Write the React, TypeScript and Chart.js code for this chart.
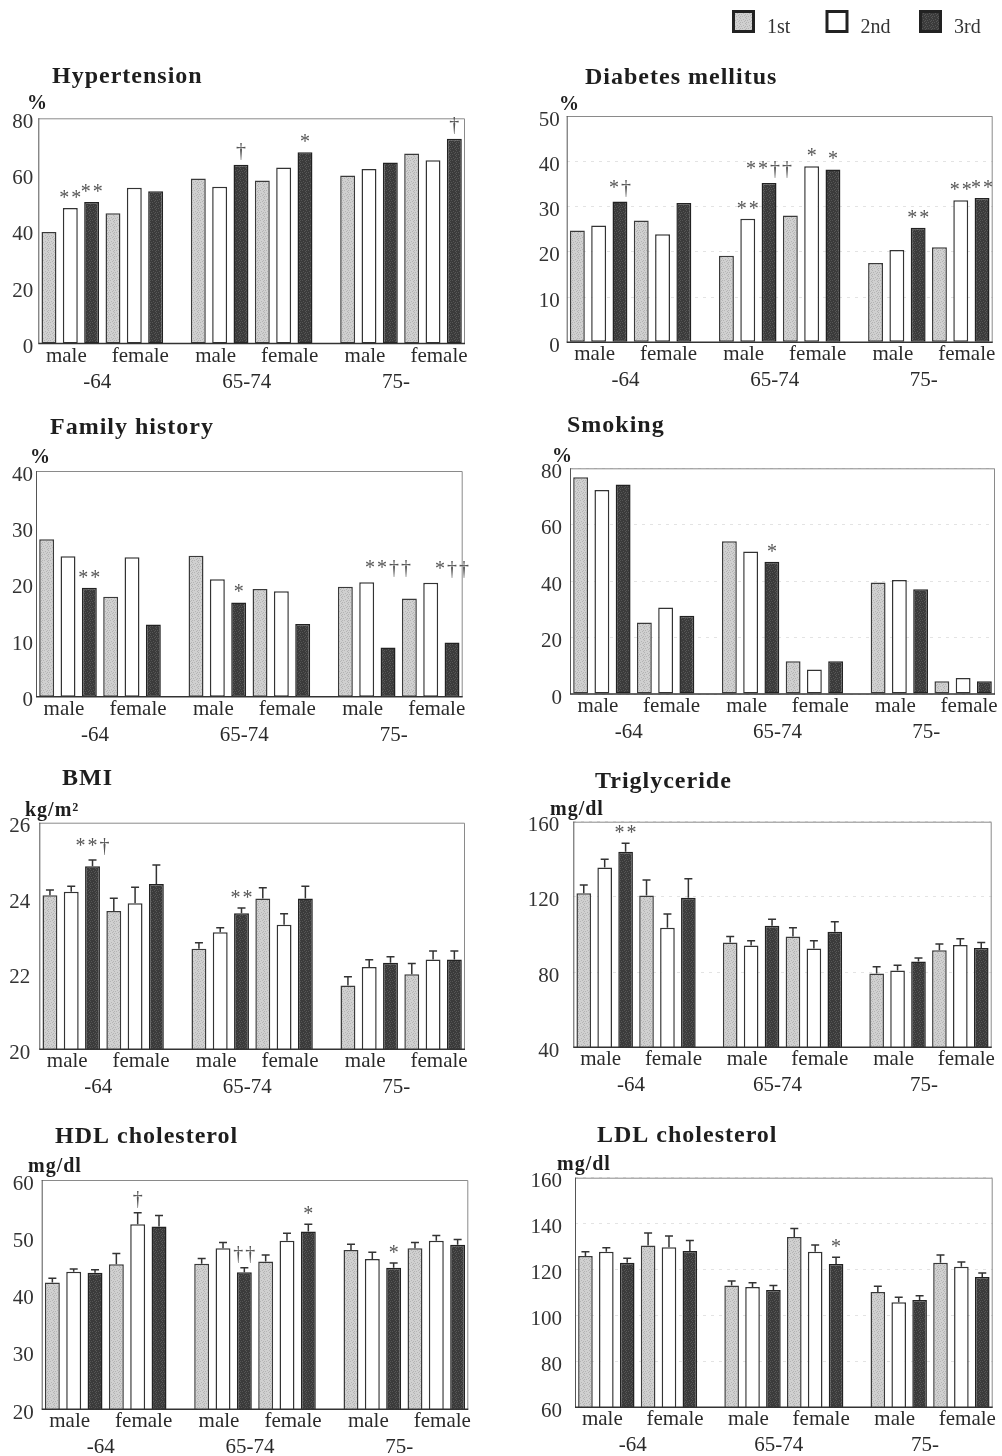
import React, { useEffect, useRef } from 'react';
import { Chart, registerables } from 'chart.js';

Chart.register(...registerables);
Chart.defaults.font.family = 'Liberation Serif';

// ---------- categories ----------
const ageGroups = ['-64', '65-74', '75-'];
const sexes = ['male', 'female'];
const tiers = ['1st', '2nd', '3rd'];

// every value array is ordered:
// [-64 male, -64 female, 65-74 male, 65-74 female, 75- male, 75- female]

// Hypertension (%)
const hypertension1st = [39.6, 46.3, 58.6, 57.9, 59.7, 67.5];
const hypertension2nd = [48.1, 55.3, 55.7, 62.5, 62.0, 65.1];
const hypertension3rd = [50.3, 54.1, 63.5, 67.9, 64.3, 72.7];
const hypertensionMarks2nd = ['**', '', '', '', '', ''];
const hypertensionMarks3rd = ['**', '', '†', '*', '', '†'];

// Diabetes mellitus (%)
const diabetes1st = [24.7, 26.9, 19.1, 28.0, 17.5, 21.0];
const diabetes2nd = [25.8, 23.9, 27.3, 38.9, 20.4, 31.4];
const diabetes3rd = [31.1, 30.8, 35.2, 38.2, 25.3, 31.9];
const diabetesMarks2nd = ['', '', '**', '*', '', '**'];
const diabetesMarks3rd = ['*†', '', '**††', '*', '**', '**'];

// Family history (%)
const family1st = [27.9, 17.7, 25.0, 19.1, 19.5, 17.4];
const family2nd = [24.9, 24.7, 20.8, 18.7, 20.3, 20.2];
const family3rd = [19.3, 12.8, 16.7, 12.9, 8.7, 9.6];
const familyMarks3rd = ['**', '', '*', '', '**††', '*††'];

// Smoking (%)
const smoking1st = [76.8, 25.3, 54.1, 11.6, 39.5, 4.5];
const smoking2nd = [72.3, 30.7, 50.5, 8.7, 40.4, 5.7];
const smoking3rd = [74.3, 27.7, 46.9, 11.6, 37.1, 4.5];
const smokingMarks3rd = ['', '', '*', '', '', ''];

// BMI (kg/m2), mean and SE
const bmi1st = [24.08, 23.66, 22.66, 23.99, 21.69, 21.99];
const bmi2nd = [24.17, 23.87, 23.10, 23.30, 22.18, 22.38];
const bmi3rd = [24.85, 24.38, 23.60, 23.99, 22.29, 22.38];
const bmiErr1st = [0.14, 0.34, 0.16, 0.29, 0.23, 0.28];
const bmiErr2nd = [0.15, 0.42, 0.12, 0.29, 0.19, 0.22];
const bmiErr3rd = [0.16, 0.50, 0.14, 0.33, 0.16, 0.22];
const bmiMarks3rd = ['**†', '', '**', '', '', ''];

// Triglyceride (mg/dl)
const tg1st = [121.9, 120.8, 95.7, 99.0, 79.3, 91.6];
const tg2nd = [135.7, 103.6, 94.1, 92.6, 80.8, 94.4];
const tg3rd = [144.0, 119.6, 104.7, 101.5, 85.6, 92.8];
const tgErr1st = [4.4, 8.2, 3.3, 4.6, 3.6, 3.3];
const tgErr2nd = [4.3, 7.3, 2.6, 4.1, 2.8, 3.4];
const tgErr3rd = [4.5, 10.1, 3.4, 5.3, 1.9, 2.9];
const tgMarks3rd = ['**', '', '', '', '', ''];

// HDL cholesterol (mg/dl)
const hdl1st = [42.1, 45.3, 45.4, 45.8, 47.8, 48.1];
const hdl2nd = [44.0, 52.3, 48.1, 49.4, 46.2, 49.4];
const hdl3rd = [43.8, 51.9, 43.9, 51.0, 44.7, 48.7];
const hdlErr1st = [0.75, 1.86, 0.9, 1.1, 1.0, 1.0];
const hdlErr2nd = [0.47, 2.0, 1.0, 1.3, 1.2, 0.9];
const hdlErr3rd = [0.56, 1.9, 0.8, 1.3, 0.8, 0.9];
const hdlMarks2nd = ['', '†', '', '', '', ''];
const hdlMarks3rd = ['', '', '††', '*', '*', ''];

// LDL cholesterol (mg/dl)
const ldl1st = [125.9, 130.5, 113.0, 134.2, 110.2, 123.0];
const ldl2nd = [127.8, 129.7, 112.4, 127.8, 105.7, 121.2];
const ldl3rd = [123.0, 128.1, 111.1, 122.4, 106.7, 116.7];
const ldlErr1st = [1.9, 5.4, 2.0, 3.7, 2.5, 3.3];
const ldlErr2nd = [1.7, 4.9, 1.9, 2.9, 2.2, 2.1];
const ldlErr3rd = [1.9, 4.5, 1.9, 2.9, 1.9, 1.8];
const ldlMarks3rd = ['', '', '', '*', '', ''];

const noMarks: string[] = [];

// ---------- styles ----------
const tierFill = ['#d0d0d0', '#ffffff', '#3b3b3b'];
const tierSpeck = ['#b4b4b4', '', '#565656'];
const tierBorder = ['#3a3a3a', '#333333', '#222222'];
// fixed stipple mask for the shaded bars (a texture, not data)
const speckMask = [
  [0, 0], [3, 1], [1, 2], [4, 3], [2, 4], [5, 5], [0, 4], [5, 2],
];

function makeFill(t: number): any {
  if (!tierSpeck[t]) return tierFill[t];
  const c = document.createElement('canvas');
  c.width = 6;
  c.height = 6;
  const g = c.getContext('2d');
  if (!g) return tierFill[t];
  g.fillStyle = tierFill[t];
  g.fillRect(0, 0, 6, 6);
  g.fillStyle = tierSpeck[t];
  speckMask.forEach(([x, y]) => g.fillRect(x, y, 1, 1));
  return g.createPattern(c, 'repeat') || tierFill[t];
}

type PanelSpec = {
  id: string;
  title: string;
  unit: string;
  min: number;
  max: number;
  step: number;
  values: number[][];
  errors?: number[][];
  marks: string[][];
  grid: boolean;
  legend?: boolean;
  canvas: number[]; // x, y, w, h (page)
  box: number[]; // left, top, right, bottom (page)
  titlePos: number[];
  unitPos: number[];
  tickPad: number;
};

const panels: PanelSpec[] = [
  {
    id: 'ht', title: 'Hypertension', unit: '%', min: 0, max: 80, step: 20,
    values: [hypertension1st, hypertension2nd, hypertension3rd],
    marks: [noMarks, hypertensionMarks2nd, hypertensionMarks3rd], grid: false,
    canvas: [0, 0, 500, 400], box: [38.3, 118.3, 465, 343.5], titlePos: [52, 83], unitPos: [27, 109], tickPad: 5,
  },
  {
    id: 'dm', title: 'Diabetes mellitus', unit: '%', min: 0, max: 50, step: 10,
    values: [diabetes1st, diabetes2nd, diabetes3rd],
    marks: [noMarks, diabetesMarks2nd, diabetesMarks3rd], grid: true, legend: true,
    canvas: [500, 0, 502, 400], box: [566.7, 116, 992.7, 342.3], titlePos: [585, 84], unitPos: [559, 110], tickPad: 7,
  },
  {
    id: 'fh', title: 'Family history', unit: '%', min: 0, max: 40, step: 10,
    values: [family1st, family2nd, family3rd],
    marks: [noMarks, noMarks, familyMarks3rd], grid: false,
    canvas: [0, 400, 500, 355], box: [36, 471, 462.7, 696.7], titlePos: [50, 434], unitPos: [30, 463], tickPad: 3,
  },
  {
    id: 'sm', title: 'Smoking', unit: '%', min: 0, max: 80, step: 20,
    values: [smoking1st, smoking2nd, smoking3rd],
    marks: [noMarks, noMarks, smokingMarks3rd], grid: true,
    canvas: [500, 400, 502, 355], box: [570, 468.3, 995, 694], titlePos: [567, 431.7], unitPos: [552, 462], tickPad: 8,
  },
  {
    id: 'bmi', title: 'BMI', unit: 'kg/m²', min: 20, max: 26, step: 2,
    values: [bmi1st, bmi2nd, bmi3rd], errors: [bmiErr1st, bmiErr2nd, bmiErr3rd],
    marks: [noMarks, noMarks, bmiMarks3rd], grid: false,
    canvas: [0, 755, 500, 350], box: [39.3, 822.7, 465, 1049.3], titlePos: [62, 785], unitPos: [25, 816], tickPad: 9,
  },
  {
    id: 'tg', title: 'Triglyceride', unit: 'mg/dl', min: 40, max: 160, step: 40,
    values: [tg1st, tg2nd, tg3rd], errors: [tgErr1st, tgErr2nd, tgErr3rd],
    marks: [noMarks, noMarks, tgMarks3rd], grid: true,
    canvas: [500, 755, 502, 350], box: [573.3, 821.7, 991.7, 1047.3], titlePos: [595, 788], unitPos: [550, 815], tickPad: 14,
  },
  {
    id: 'hdl', title: 'HDL cholesterol', unit: 'mg/dl', min: 20, max: 60, step: 10,
    values: [hdl1st, hdl2nd, hdl3rd], errors: [hdlErr1st, hdlErr2nd, hdlErr3rd],
    marks: [noMarks, hdlMarks2nd, hdlMarks3rd], grid: false,
    canvas: [0, 1105, 500, 351], box: [41.7, 1180, 468.3, 1409.3], titlePos: [55, 1143], unitPos: [28, 1172], tickPad: 8,
  },
  {
    id: 'ldl', title: 'LDL cholesterol', unit: 'mg/dl', min: 60, max: 160, step: 20,
    values: [ldl1st, ldl2nd, ldl3rd], errors: [ldlErr1st, ldlErr2nd, ldlErr3rd],
    marks: [noMarks, noMarks, ldlMarks3rd], grid: true,
    canvas: [500, 1105, 502, 351], box: [575, 1177.7, 992.7, 1407.3], titlePos: [597, 1142], unitPos: [557, 1170], tickPad: 13,
  },
];

// ---------- slots: 3 age groups x (2 sexes x 3 tiers) with one empty slot between age groups ----------
const slotsPerAge = sexes.length * tiers.length + 1;
const slotLabels: string[] = [];
ageGroups.forEach((age, a) => {
  sexes.forEach((sex) => tiers.forEach((t) => slotLabels.push(`${age} ${sex} ${t}`)));
  if (a < ageGroups.length - 1) slotLabels.push(`gap${a}`);
});
const slotOf = (g: number, t: number) =>
  Math.floor(g / sexes.length) * slotsPerAge + (g % sexes.length) * tiers.length + t;

function makeDecor(spec: PanelSpec, fills: any[]) {
  return {
    id: 'panelDecor_' + spec.id,
    afterDatasetsDraw(chart: any) {
      const ctx: CanvasRenderingContext2D = chart.ctx;
      const { left, top, right, bottom } = chart.chartArea;
      const xs = chart.scales.x;
      const ys = chart.scales.y;
      const [cx, cy] = spec.canvas;
      ctx.save();

      // frame
      ctx.lineWidth = 1;
      ctx.strokeStyle = '#8a8a8a';
      ctx.beginPath();
      ctx.moveTo(left, top + 0.5);
      ctx.lineTo(right - 0.5, top + 0.5);
      ctx.lineTo(right - 0.5, bottom);
      ctx.stroke();
      ctx.strokeStyle = '#555';
      ctx.beginPath();
      ctx.moveTo(left + 0.5, top);
      ctx.lineTo(left + 0.5, bottom);
      ctx.stroke();
      ctx.strokeStyle = '#333';
      ctx.lineWidth = 1.6;
      ctx.beginPath();
      ctx.moveTo(left, bottom);
      ctx.lineTo(right, bottom);
      ctx.stroke();

      // tops of every bar (including its error bar), used to place the marks
      const tops: { x0: number; x1: number; y: number }[] = [];
      spec.values.forEach((vals, t) =>
        vals.forEach((v, g) => {
          const el = chart.getDatasetMeta(t).data[slotOf(g, t)];
          const e = spec.errors ? spec.errors[t][g] : 0;
          const half = el && el.width ? el.width / 2 : 7;
          const px = xs.getPixelForValue(slotOf(g, t));
          tops.push({ x0: px - half, x1: px + half, y: ys.getPixelForValue(v + e) });
        })
      );

      // error bars (upper only)
      if (spec.errors) {
        ctx.strokeStyle = '#333';
        ctx.lineWidth = 1.5;
        spec.errors.forEach((errs, t) =>
          errs.forEach((e, g) => {
            const v = spec.values[t][g];
            const px = xs.getPixelForValue(slotOf(g, t));
            const y0 = ys.getPixelForValue(v);
            const y1 = ys.getPixelForValue(v + e);
            ctx.beginPath();
            ctx.moveTo(px, y0);
            ctx.lineTo(px, y1);
            ctx.moveTo(px - 4, y1);
            ctx.lineTo(px + 4, y1);
            ctx.stroke();
          })
        );
      }

      // significance marks, lifted clear of every bar they span
      ctx.fillStyle = '#555';
      ctx.font = '20px "Liberation Serif"';
      (ctx as any).letterSpacing = '2px';
      ctx.textAlign = 'center';
      ctx.textBaseline = 'alphabetic';
      spec.marks.forEach((marks, t) =>
        marks.forEach((m, g) => {
          if (!m) return;
          const px = xs.getPixelForValue(slotOf(g, t));
          const w = ctx.measureText(m).width;
          let anchor = Infinity;
          tops.forEach((b) => {
            if (b.x1 > px - w / 2 && b.x0 < px + w / 2) anchor = Math.min(anchor, b.y);
          });
          const lift = m.indexOf('†') >= 0 ? 8 : 4;
          ctx.fillText(m, px + 1, anchor - lift);
        })
      );
      (ctx as any).letterSpacing = '0px';

      // category labels
      ctx.fillStyle = '#2a2a2a';
      ctx.font = '21px "Liberation Serif"';
      ctx.textAlign = 'center';
      ageGroups.forEach((age, a) => {
        sexes.forEach((sex, si) => {
          const px = xs.getPixelForValue(a * slotsPerAge + si * tiers.length + 1) + (si === 0 ? -4 : 6);
          ctx.fillText(sex, px, bottom + 18);
        });
        const mid =
          (xs.getPixelForValue(a * slotsPerAge + 2) + xs.getPixelForValue(a * slotsPerAge + 3)) / 2 - 5;
        ctx.fillText(age, mid, bottom + 44);
      });

      // title and unit
      ctx.textAlign = 'left';
      ctx.fillStyle = '#1e1e1e';
      ctx.font = 'bold 24px "Liberation Serif"';
      (ctx as any).letterSpacing = '1px';
      ctx.fillText(spec.title, spec.titlePos[0] - cx, spec.titlePos[1] - cy);
      ctx.font = 'bold 20px "Liberation Serif"';
      ctx.fillText(spec.unit, spec.unitPos[0] - cx, spec.unitPos[1] - cy);
      (ctx as any).letterSpacing = '0px';

      // legend
      if (spec.legend) {
        ctx.font = '20px "Liberation Serif"';
        ctx.textBaseline = 'alphabetic';
        tiers.forEach((tier, t) => {
          const bx = 732 + t * 93.5 - cx;
          const by = 10 - cy;
          ctx.fillStyle = fills[t];
          ctx.fillRect(bx + 1.5, by + 1.5, 20, 20);
          ctx.lineWidth = 3;
          ctx.strokeStyle = '#222';
          ctx.strokeRect(bx + 1.5, by + 1.5, 20, 20);
          ctx.fillStyle = '#333';
          ctx.fillText(tier, bx + 35, by + 23);
        });
      }
      ctx.restore();
    },
  };
}

function makeConfig(spec: PanelSpec): any {
  const [cx, cy, cw, ch] = spec.canvas;
  const [bl, bt, br, bb] = spec.box;
  const fills = tiers.map((_, t) => makeFill(t));
  const datasets = tiers.map((tier, t) => {
    const data: (number | null)[] = slotLabels.map(() => null);
    spec.values[t].forEach((v, g) => {
      data[slotOf(g, t)] = v;
    });
    return {
      label: tier,
      data,
      backgroundColor: fills[t],
      borderColor: tierBorder[t],
      borderWidth: 1.5,
      borderSkipped: false,
      grouped: false,
      categoryPercentage: 1,
      barPercentage: 0.7,
    };
  });
  return {
    type: 'bar',
    data: { labels: slotLabels, datasets },
    options: {
      responsive: false,
      maintainAspectRatio: false,
      animation: false,
      events: [],
      layout: { padding: { left: 0, top: bt - cy, right: cx + cw - br, bottom: cy + ch - bb } },
      plugins: { legend: { display: false }, tooltip: { enabled: false }, title: { display: false } },
      scales: {
        x: { type: 'category', display: false, offset: true, grid: { display: false } },
        y: {
          type: 'linear',
          min: spec.min,
          max: spec.max,
          afterFit: (s: any) => {
            s.width = bl - cx;
          },
          border: { display: false, dash: [3, 5] },
          grid: { display: spec.grid, drawTicks: false, color: '#e3e3e3', lineWidth: 1 },
          ticks: {
            stepSize: spec.step,
            autoSkip: false,
            padding: spec.tickPad,
            labelOffset: 4,
            color: '#333',
            font: { family: 'Liberation Serif', size: 21 },
          },
        },
      },
    },
    plugins: [makeDecor(spec, fills)],
  };
}

function Panel({ spec }: { spec: PanelSpec }) {
  const ref = useRef<HTMLCanvasElement>(null);
  useEffect(() => {
    if (!ref.current) return;
    const chart = new Chart(ref.current, makeConfig(spec));
    return () => chart.destroy();
  }, [spec]);
  const [cx, cy, cw, ch] = spec.canvas;
  return (
    <canvas
      ref={ref}
      width={cw}
      height={ch}
      style={{ position: 'absolute', left: cx, top: cy, width: cw, height: ch }}
    />
  );
}

export default function App() {
  return (
    <div
      style={{
        position: 'absolute',
        left: 0,
        top: 0,
        width: 1002,
        height: 1456,
        background: '#ffffff',
        overflow: 'hidden',
      }}
    >
      {panels.map((p) => (
        <Panel key={p.id} spec={p} />
      ))}
    </div>
  );
}
